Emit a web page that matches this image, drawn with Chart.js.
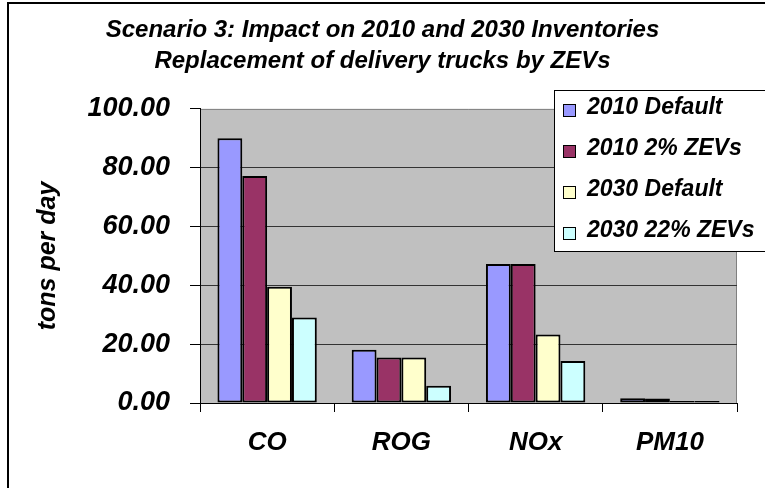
<!DOCTYPE html>
<html>
<head>
<meta charset="utf-8">
<script src="https://cdn.jsdelivr.net/npm/chart.js@4.4.1/dist/chart.umd.min.js"></script>
<style>
  html, body { margin: 0; padding: 0; background: #ffffff; }
  #wrap { width: 765px; height: 488px; }
</style>
</head>
<body>
<div id="wrap"><canvas id="chart" width="765" height="488"></canvas></div>
<script>
// Pollutant categories and emission inventories (tons per day)
const categories = ['CO', 'ROG', 'NOx', 'PM10'];
const seriesLabels = ['2010 Default', '2010 2% ZEVs', '2030 Default', '2030 22% ZEVs'];
const default2010 = [90.0, 18.1, 47.3, 1.6];
const zev2010 = [77.2, 15.5, 47.3, 1.5];
const default2030 = [39.5, 15.5, 23.3, 0.7];
const zev2030 = [29.1, 5.9, 14.3, 0.7];
const yTicks = [0, 20, 40, 60, 80, 100];

const seriesColors = ['#9999FF', '#993366', '#FFFFCC', '#CCFFFF'];
const FONT = '"Liberation Sans", Arial, Helvetica, sans-serif';

const seriesValues = [default2010, zev2010, default2030, zev2030];

// Grey plot background, chart frame and the boxed legend
const decorations = {
  id: 'decorations',
  beforeDraw(chart) {
    const { ctx, chartArea: a } = chart;
    ctx.save();
    ctx.fillStyle = '#C0C0C0';
    ctx.fillRect(a.left, a.top, a.right - a.left, a.bottom - a.top);
    ctx.strokeStyle = '#808080';
    ctx.lineWidth = 1;
    ctx.beginPath();
    ctx.moveTo(a.left, a.top + 0.5);
    ctx.lineTo(a.right - 0.5, a.top + 0.5);
    ctx.lineTo(a.right - 0.5, a.bottom);
    ctx.stroke();
    // outer frame
    ctx.strokeStyle = '#000000';
    ctx.lineWidth = 2;
    ctx.strokeRect(8, 3, 800, 520);
    ctx.restore();
  },
  afterDraw(chart) {
    const { ctx } = chart;
    ctx.save();
    ctx.fillStyle = '#ffffff';
    ctx.fillRect(554, 90, 240, 161);
    ctx.strokeStyle = '#000000';
    ctx.lineWidth = 1;
    ctx.strokeRect(554.5, 90.5, 240, 161);
    ctx.font = 'italic bold 23px ' + FONT;
    ctx.textBaseline = 'middle';
    ctx.textAlign = 'left';
    chart.data.datasets.forEach((ds, i) => {
      const y = 108 + i * 41;
      ctx.fillStyle = ds.backgroundColor;
      ctx.fillRect(563.5, y - 3.5, 12, 12);
      ctx.strokeStyle = '#000000';
      ctx.strokeRect(563.5, y - 3.5, 12, 12);
      ctx.fillStyle = '#000000';
      ctx.fillText(ds.label, 587, y);
    });
    ctx.restore();
  }
};

new Chart(document.getElementById('chart'), {
  type: 'bar',
  data: {
    labels: categories,
    datasets: seriesLabels.map((label, i) => ({
      label,
      data: seriesValues[i],
      backgroundColor: seriesColors[i],
      borderColor: '#000000',
      borderWidth: 2,
      borderSkipped: false,
      categoryPercentage: 0.74,
      barPercentage: 1.0
    }))
  },
  options: {
    responsive: false,
    animation: false,
    devicePixelRatio: 1,
    layout: { padding: { left: 28, right: 28, top: 0, bottom: 0 } },
    plugins: {
      legend: { display: false },
      tooltip: { enabled: false },
      title: {
        display: true,
        text: ['Scenario 3: Impact on 2010 and 2030 Inventories', 'Replacement of delivery trucks by ZEVs'],
        color: '#000000',
        font: { family: FONT, size: 24, weight: 'bold', style: 'italic', lineHeight: 1.29 },
        padding: { top: 15, bottom: 32 }
      }
    },
    scales: {
      x: {
        grid: {
          offset: true,
          drawOnChartArea: false,
          drawTicks: true,
          tickLength: 9,
          tickColor: '#000000',
          color: '#000000'
        },
        border: { color: '#000000', width: 1 },
        ticks: {
          color: '#000000',
          padding: 15,
          font: { family: FONT, size: 26, weight: 'bold', style: 'italic' }
        },
        afterFit(scale) { scale.height = 85; }
      },
      y: {
        min: 0,
        max: 100,
        afterBuildTicks(scale) { scale.ticks = yTicks.map(v => ({ value: v })); },
        grid: {
          color: (c) => (c.tick && c.tick.value === 100 ? 'rgba(0,0,0,0)' : '#333333'),
          tickColor: '#000000',
          tickLength: 10,
          drawTicks: true
        },
        border: { color: '#000000', width: 1 },
        ticks: {
          color: '#000000',
          padding: 20,
          font: { family: FONT, size: 27, weight: 'bold', style: 'italic' },
          callback: (v) => Number(v).toFixed(2)
        },
        title: {
          display: true,
          text: 'tons per day',
          color: '#000000',
          font: { family: FONT, size: 25, weight: 'bold', style: 'italic' },
          padding: { top: 5, bottom: 0 }
        },
        afterFit(scale) { scale.width = 172; }
      }
    }
  },
  plugins: [decorations]
});
</script>
</body>
</html>
